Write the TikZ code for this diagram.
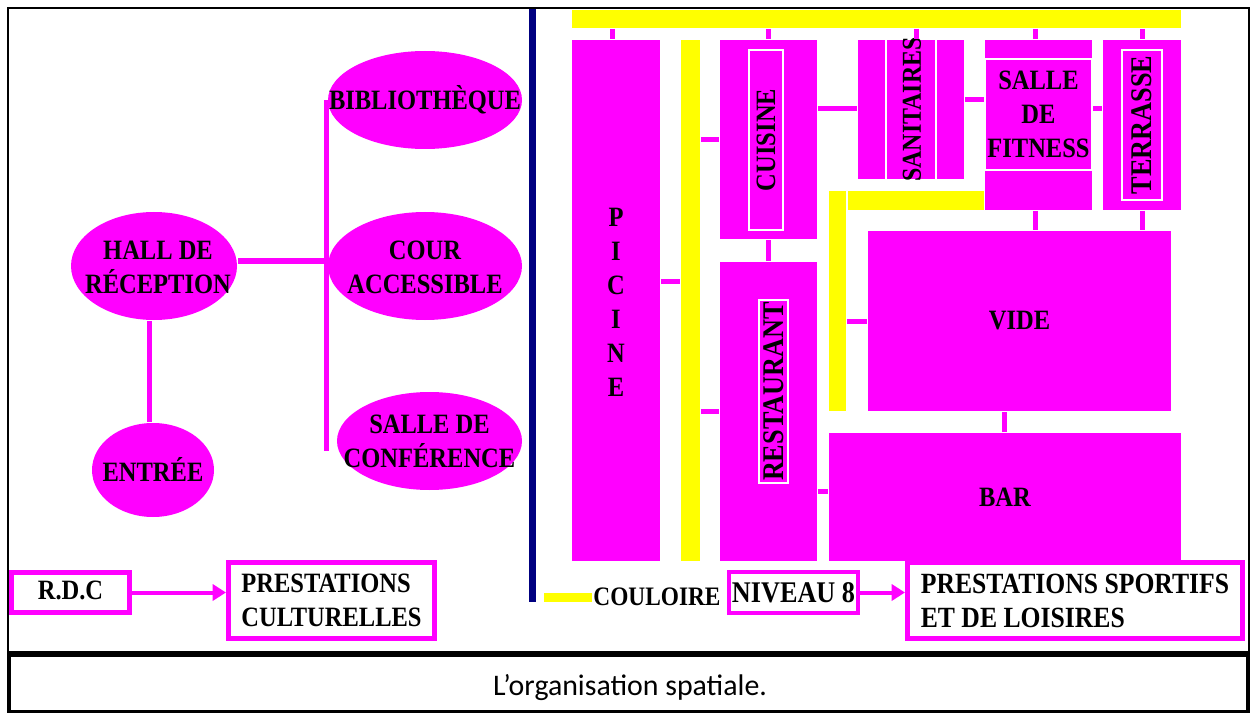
\documentclass[tikz,border=0pt]{standalone}
\usepackage{fontspec}
\setmainfont{Carlito}
\newfontfamily\titlefont[FakeStretch=0.875]{Liberation Serif Bold}
\usetikzlibrary{shapes,arrows.meta}
\definecolor{pinkfill}{RGB}{255,0,255}
\definecolor{yellowfill}{RGB}{255,255,0}
\definecolor{navyfill}{RGB}{0,0,128}
\tikzset{
  size/.style 2 args={minimum width=#1*0.75pt,minimum height=#2*0.75pt},
  label/.style={font=\titlefont\fontsize{21}{25.5}\selectfont,align=center,inner sep=0pt,text=black},
  biglabel/.style={font=\titlefont\fontsize{22.5}{25.5}\selectfont},
  room/.style={label,rectangle,fill=pinkfill,outer sep=0.75pt},
  oval/.style={ellipse,fill=pinkfill,inner sep=0pt,outer sep=0.75pt},
  band/.style={rectangle,fill=yellowfill,inner sep=0pt,outer sep=0.75pt},
  inset/.style={label,rectangle,draw=white,line width=0.9pt},
  frame/.style={label,rectangle,align=left,draw=pinkfill,line width=3.75pt,outer sep=1.875pt},
  link/.style={draw=pinkfill,line width=3.75pt},
  arrow/.style={draw=pinkfill,line width=3pt,-{Triangle[length=10pt,width=12pt]}}
}
\begin{document}
\begin{tikzpicture}[x=0.75pt,y=-0.75pt]
\useasboundingbox (0,0) rectangle (1250,713);
\node (BORDER) [rectangle,draw=black,line width=1.1pt,size={1241}{644}] at (628.5,330) {};
\node (CAPTION) [rectangle,draw=black,fill=white,line width=3pt,size={1239}{57}] at (628.5,683) {};
\node (CAPTEXT) [font=\fontsize{22.4}{26}\selectfont,inner sep=0pt] at (630,688) {L’organisation spatiale.};
% rdc side
\node (HALL) [oval,size={166}{108}] at (154,266) {};
\node (HALLTEXT) [label] at (158,267) {HALL DE\\RÉCEPTION};
\node (ENTREE) [oval,size={122}{94}] at (153,470) {};
\node (ENTTEXT) [label] at (153,469) {ENTRÉE};
\node (BIBLIO) [oval,size={194}{98}] at (425,100) {};
\node (BIBTEXT) [label] at (BIBLIO) {BIBLIOTHÈQUE};
\node (COUR) [oval,size={194}{108}] at (425,266) {};
\node (COURTEXT) [label] at (425,267) {COUR\\ACCESSIBLE};
\node (CONF) [oval,size={185}{98}] at (429.5,441) {};
\node (CONFTEXT) [label] at (CONF) {SALLE DE\\CONFÉRENCE};
\coordinate (TRUNKTOP) at (326,100);
\coordinate (TRUNKBOT) at (326,451);
\draw [link] (TRUNKTOP) to (TRUNKBOT);
\draw [link] (HALL.east |- 0,261) to (TRUNKTOP |- 0,261);
\draw [link] (149,0 |- HALL.south) to (149,0 |- ENTREE.north);
\node (RDC) [frame,size={118}{40}] at (70.5,592.5) {\raisebox{3pt}{R.D.C}};
\node (PRESTA) [frame,size={206}{76}] at (331.5,600.5) {PRESTATIONS\\CULTURELLES};
\draw [arrow] (RDC.east) to (PRESTA.west |- RDC.east);
% level 8 side
\node (DIVIDE) [rectangle,fill=navyfill,inner sep=0pt,size={7}{593}] at (532.5,305.5) {};
\node (TOPBAND) [band,size={609}{18}] at (876.5,19) {};
\node (PISCINE) [room,size={88}{521}] at (616,300.5) {};
\node (PISTEXT) [label] at (616,302) {P\\I\\C\\I\\N\\E};
\node (MIDBAND) [band,size={19}{521}] at (690.5,300.5) {};
\node (CUISINE) [room,size={97}{199}] at (768.5,139.5) {};
\node (CUISTEXT) [inset,rotate=90,size={180}{34}] at (766,140) {CUISINE};
\node (SANLEFT) [room,size={27}{139}] at (871.5,109.5) {};
\node (SANMID) [room,size={48}{139}] at (911,109.5) {};
\node (SANRIGHT) [room,size={27}{139}] at (950.5,109.5) {};
\node (SANTEXT) [label,rotate=90,font=\titlefont\fontsize{20.5}{25.5}\selectfont] at (912,109.5) {SANITAIRES};
\node (FITNESS) [room,size={107}{170}] at (1038.5,125) {};
\node (FITTOP) [inset,size={107}{111}] at (1038.5,114.5) {SALLE\\DE\\FITNESS};
\node (TERRASSE) [room,size={78}{170}] at (1142,125) {};
\node (TERTEXT) [inset,biglabel,rotate=90,size={150}{40}] at (1142,125) {TERRASSE};
\node (SIDEBAND) [band,size={17}{220}] at (837.5,301) {};
\node (LOWBAND) [band,size={136}{19}] at (916,200.5) {};
\node (VIDE) [room,size={303}{180}] at (1019.5,321) {VIDE};
\node (RESTO) [room,size={97}{299}] at (768.5,411.5) {};
\node (RESTEXT) [inset,biglabel,rotate=90,size={183}{29}] at (773.5,391.5) {RESTAURANT};
\node (BAR) [room,size={352}{128}] at (1005,497) {BAR};
\draw [link] (612,0 |- TOPBAND.south) to (612,0 |- PISCINE.north);
\draw [link] (CUISINE.north |- TOPBAND.south) to (CUISINE.north);
\draw [link] (916,0 |- TOPBAND.south) to (916,0 |- SANMID.north);
\draw [link] (1035,0 |- TOPBAND.south) to (1035,0 |- FITNESS.north);
\draw [link] (1142,0 |- TOPBAND.south) to (1142,0 |- TERRASSE.north);
\draw [link] (PISCINE.east |- 0,281) to (MIDBAND.west |- 0,281);
\draw [link] (MIDBAND.east |- 0,140) to (CUISINE.west |- 0,140);
\draw [link] (MIDBAND.east |- 0,411) to (RESTO.west |- 0,411);
\draw [link] (CUISINE.east |- 0,109) to (SANLEFT.west |- 0,109);
\draw [link] (SANRIGHT.east |- 0,100) to (FITNESS.west |- 0,100);
\draw [link] (FITNESS.east |- 0,109) to (TERRASSE.west |- 0,109);
\draw [link] (1035,0 |- FITNESS.south) to (1035,0 |- VIDE.north);
\draw [link] (1142,0 |- TERRASSE.south) to (1142,0 |- VIDE.north);
\draw [link] (CUISINE.south) to (RESTO.north);
\draw [link] (SIDEBAND.east |- 0,321) to (VIDE.west |- 0,321);
\draw [link] (1004,0 |- VIDE.south) to (1004,0 |- BAR.north);
\draw [link] (RESTO.east |- 0,491) to (BAR.west |- 0,491);
\node (DASH) [band,size={48}{9}] at (568,597.5) {};
\node (COULOIRE) [label,font=\titlefont\fontsize{20}{25.5}\selectfont] at (657,597) {COULOIRE};
\node (NIVEAU) [frame,biglabel,line width=3pt,outer sep=1.5pt,size={129}{41}] at (793.5,592.5) {\raisebox{-4pt}{NIVEAU 8}};
\node (SPORT) [frame,font=\titlefont\fontsize{22}{25.5}\selectfont,size={335}{76}] at (1075,600.5) {PRESTATIONS SPORTIFS\\ET DE LOISIRES};
\draw [arrow] (NIVEAU.east) to (SPORT.west |- NIVEAU.east);
\end{tikzpicture}
\end{document}
